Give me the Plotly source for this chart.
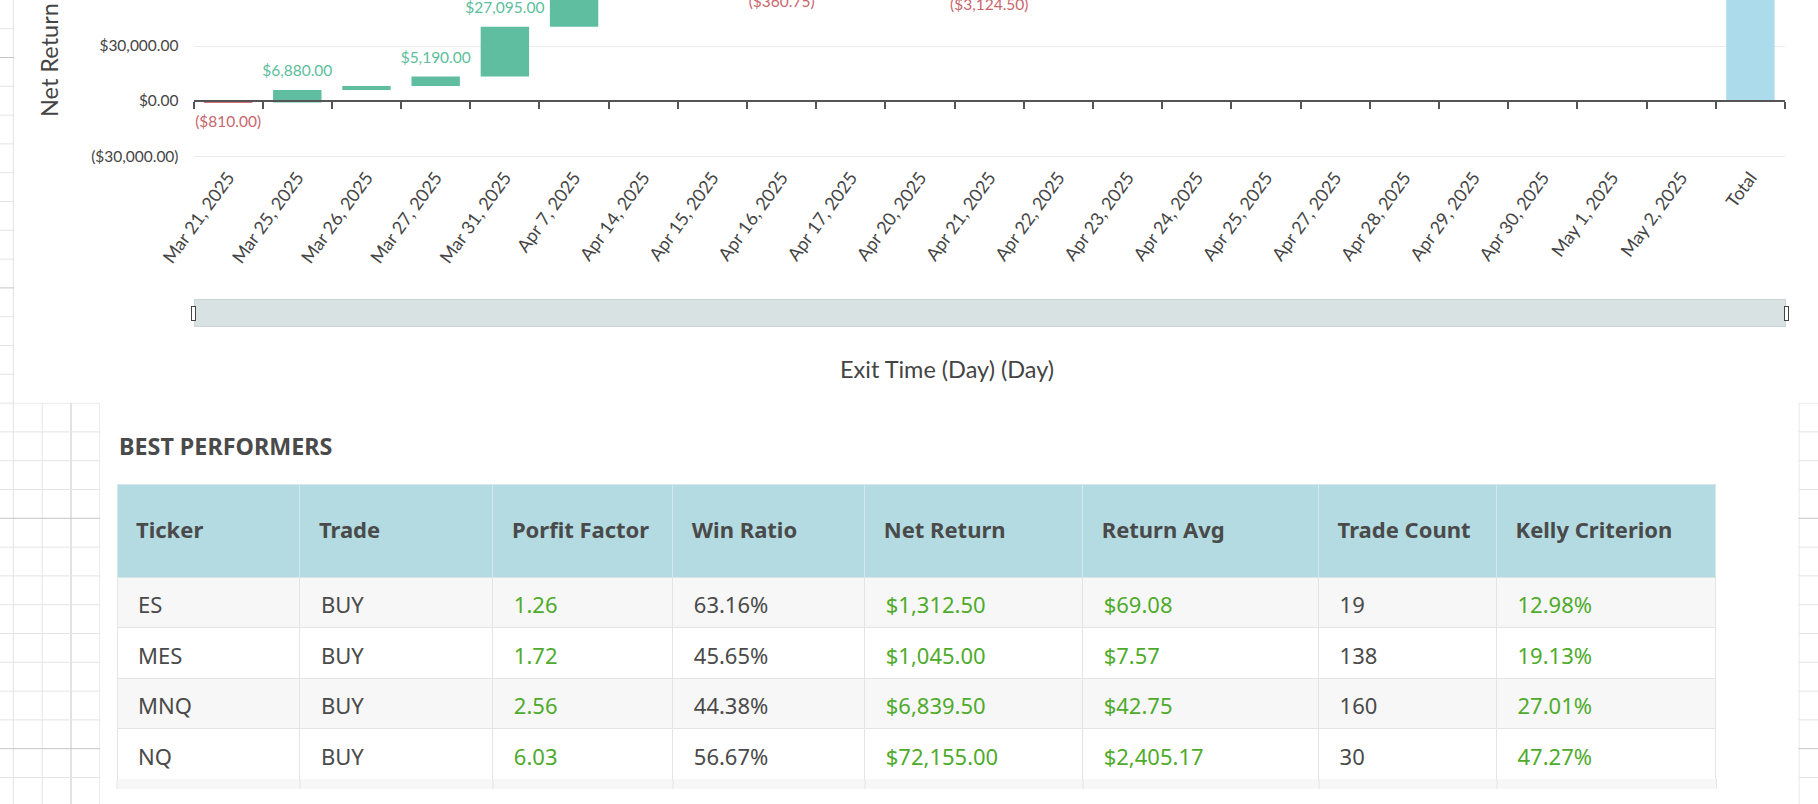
import plotly.graph_objects as go

# ---------------- data ----------------
CATEGORIES = ["Mar 21, 2025", "Mar 25, 2025", "Mar 26, 2025", "Mar 27, 2025", "Mar 31, 2025",
              "Apr 7, 2025", "Apr 14, 2025", "Apr 15, 2025", "Apr 16, 2025", "Apr 17, 2025",
              "Apr 20, 2025", "Apr 21, 2025", "Apr 22, 2025", "Apr 23, 2025", "Apr 24, 2025",
              "Apr 25, 2025", "Apr 27, 2025", "Apr 28, 2025", "Apr 29, 2025", "Apr 30, 2025",
              "May 1, 2025", "May 2, 2025", "Total"]
NET_RETURNS = [-810.00, 6880.00, 2100.00, 5190.00, 27095.00,
               16650.00, 3480.00, 4425.00, -360.75, 640.00,
               535.00, -3124.50, 9300.00, -1185.00, 2310.00,
               4065.00, -980.00, 1875.00, -2430.00, 3190.00,
               1420.00, -655.00]
MEASURES = ["relative"] * len(NET_RETURNS) + ["total"]
# labels the reference hides because they collide with their neighbours
HIDDEN_LABELS = {"Mar 26, 2025"}
Y_TICKS = [-30000, 0, 30000, 60000]

TABLE_TITLE = "BEST PERFORMERS"
TABLE_COLUMNS = ["Ticker", "Trade", "Porfit Factor", "Win Ratio", "Net Return",
                 "Return Avg", "Trade Count", "Kelly Criterion"]
TICKERS = ["ES", "MES", "MNQ", "NQ"]
TRADES = ["BUY", "BUY", "BUY", "BUY"]
PROFIT_FACTORS = [1.26, 1.72, 2.56, 6.03]
WIN_RATIOS = [63.16, 45.65, 44.38, 56.67]
TABLE_NET_RETURNS = [1312.50, 1045.00, 6839.50, 72155.00]
RETURN_AVGS = [69.08, 7.57, 42.75, 2405.17]
TRADE_COUNTS = [19, 138, 160, 30]
KELLY = [12.98, 19.13, 27.01, 47.27]

# ---------------- style / layout constants ----------------
W, H = 1818, 804
PLOT_L, PLOT_R, PLOT_B = 193.5, 1785.0, 162.5
Y_RANGE = [-33500, 55100]
SLIDER_DEPTH = 121.5        # space reserved between plot bottom and range slider
COL_WIDTHS = [183, 193, 180, 192, 218, 236, 178, 219.5]
TABLE_L, TABLE_TOP = 117.0, 484.0
HEADER_H, ROW_H = 93, 50.5
TBL_FONT = 22

GREEN_BAR, RED_BAR, TOTAL_BAR = "#60bea0", "#d46a72", "#acdcec"
GREEN_TXT, RED_TXT = "#5cbe9c", "#c9666e"
TXT = "#444444"
TBL_TXT, TBL_GREEN = "#4a4a4a", "#4fab2b"


def px(x):
    return x / W


def py(y):
    return 1 - y / H


def money(v):
    return f"${v:,.2f}" if v >= 0 else f"(${-v:,.2f})"


def spaced(label, size):
    # invisible wide spacer glyphs give the outside label a little more distance from the bar
    sp = f"<span style='font-size:{size}px'>\u00a0</span>"
    return f"{sp}{label}{sp}"


total = sum(NET_RETURNS)
bar_text = []
for cat, v in zip(CATEGORIES[:-1], NET_RETURNS):
    if cat in HIDDEN_LABELS:
        bar_text.append("")
    else:
        bar_text.append(spaced(money(v), 52 if v >= 0 else 21))
bar_text.append(spaced(money(total), 52))
text_colors = [GREEN_TXT if v >= 0 else RED_TXT for v in NET_RETURNS] + [TXT]

ydom0 = py(PLOT_B)
zero_pos = ydom0 + (0 - Y_RANGE[0]) / (Y_RANGE[1] - Y_RANGE[0]) * (1 - ydom0)
x_range = [-0.5, len(CATEGORIES) - 0.5]

fig = go.Figure()
fig.add_trace(go.Waterfall(
    x=CATEGORIES, y=NET_RETURNS + [0], measure=MEASURES,
    text=bar_text, textposition="outside", constraintext="none", cliponaxis=True,
    textfont=dict(family="Lato", size=15.5, color=text_colors),
    increasing=dict(marker=dict(color=GREEN_BAR)),
    decreasing=dict(marker=dict(color=RED_BAR)),
    totals=dict(marker=dict(color=TOTAL_BAR)),
    connector=dict(visible=False), showlegend=False, hoverinfo="x+y",
))
# helper traces so the label axis and the zero-level axis get drawn
for ax in ("x2", "x3"):
    fig.add_trace(go.Scatter(x=CATEGORIES, y=[None] * len(CATEGORIES), xaxis=ax, yaxis="y",
                             mode="markers", showlegend=False, hoverinfo="skip"))

# ---------------- table ----------------
pad = "\u2002"
cols = [
    TICKERS,
    TRADES,
    [f"{v:.2f}" for v in PROFIT_FACTORS],
    [f"{v:.2f}%" for v in WIN_RATIOS],
    [money(v) for v in TABLE_NET_RETURNS],
    [money(v) for v in RETURN_AVGS],
    [str(v) for v in TRADE_COUNTS],
    [f"{v:.2f}%" for v in KELLY],
]
col_is_green = [False, False, True, False, True, True, False, True]
n_rows = len(TICKERS)
row_fill = ["#f7f7f7" if i % 2 == 0 else "#ffffff" for i in range(n_rows)]
table_w = sum(COL_WIDTHS)
table_bottom = TABLE_TOP + HEADER_H + n_rows * ROW_H

# invisible raised spacer: lowers the cell text a little inside its row
lift = "<sup><sup><sup>\u00a0</sup></sup></sup>"
# invisible first line: centres the header text in its taller row
head_lead = "<span style='font-size:15.7px'>\u00a0</span><br>"

fig.add_trace(go.Table(
    domain=dict(x=[px(TABLE_L), px(TABLE_L + table_w)], y=[py(table_bottom + 1), py(TABLE_TOP)]),
    columnwidth=COL_WIDTHS,
    header=dict(values=[f"{head_lead}<b>{pad}{c}</b>" for c in TABLE_COLUMNS],
                fill_color="#b3dbe1", line=dict(color="#d6e6e9", width=1),
                font=dict(family="Noto Sans", size=TBL_FONT, color=TBL_TXT),
                align="left", height=HEADER_H),
    cells=dict(values=[[f"{lift}{pad}{s}" for s in c] for c in cols],
               fill_color=[row_fill] * len(cols), line=dict(color="#e4e4e4", width=1),
               font=dict(family="Noto Sans", size=TBL_FONT,
                         color=[[TBL_GREEN if g else TBL_TXT] * n_rows for g in col_is_green]),
               align="left", height=ROW_H),
))

# ---------------- background: grid paper + white cards ----------------
shapes = []
CELL, X0, Y0 = 28.8, 13.4, -0.1
k = 0
while X0 + CELL * k <= W:
    x = X0 + CELL * k
    major = (k - 2) % 8 == 0
    shapes.append(dict(type="line", xref="paper", yref="paper", layer="below",
                       x0=px(x), x1=px(x), y0=0, y1=1,
                       line=dict(color="#c6c6c6" if major else "#e4e4e4", width=1)))
    k += 1
k = 1
while Y0 + CELL * k <= H:
    y = Y0 + CELL * k
    major = (k - 2) % 8 == 0
    shapes.append(dict(type="line", xref="paper", yref="paper", layer="below",
                       x0=0, x1=1, y0=py(y), y1=py(y),
                       line=dict(color="#c6c6c6" if major else "#e4e4e4", width=1)))
    k += 1
CARD_SPLIT = 403.3
shapes.append(dict(type="rect", xref="paper", yref="paper", layer="below",
                   x0=px(14.2), x1=1, y0=py(CARD_SPLIT - 0.6), y1=1,
                   fillcolor="#ffffff", line=dict(width=0)))
shapes.append(dict(type="rect", xref="paper", yref="paper", layer="below",
                   x0=px(100.1), x1=px(1798.4), y0=0, y1=py(CARD_SPLIT - 1),
                   fillcolor="#ffffff", line=dict(width=0)))
# clipped top of the next table row (table viewport ends here)
CLIP_B = 789
shapes.append(dict(type="rect", xref="paper", yref="paper",
                   x0=px(TABLE_L), x1=px(TABLE_L + table_w), y0=py(CLIP_B), y1=py(table_bottom),
                   fillcolor="#f7f7f7", line=dict(width=0)))
edge = TABLE_L
for wcol in [0] + COL_WIDTHS:
    edge += wcol
    shapes.append(dict(type="line", xref="paper", yref="paper",
                       x0=px(edge), x1=px(edge), y0=py(CLIP_B), y1=py(table_bottom),
                       line=dict(color="#e4e4e4", width=1)))

annotations = [
    dict(text="Net Return", xref="paper", yref="paper", x=px(49), y=py(60), textangle=-90,
         xanchor="center", yanchor="middle", showarrow=False,
         font=dict(family="Lato", size=23.5, color=TXT)),
    dict(text="Exit Time (Day) (Day)", xref="paper", yref="paper", x=px(947), y=py(369),
         xanchor="center", yanchor="middle", showarrow=False,
         font=dict(family="Lato", size=23.5, color=TXT)),
    dict(text=f"<b>{TABLE_TITLE}</b>", xref="paper", yref="paper", x=px(117), y=py(446),
         xanchor="left", yanchor="middle", showarrow=False,
         font=dict(family="Noto Sans", size=23.3, color=TBL_TXT)),
]

cat_axis = dict(type="category", categoryorder="array", categoryarray=CATEGORIES,
                range=x_range, showgrid=False, zeroline=False)

fig.update_layout(
    width=W, height=H,
    margin=dict(l=0, r=0, t=0, b=0, autoexpand=False),
    paper_bgcolor="#ffffff", plot_bgcolor="rgba(0,0,0,0)",
    font=dict(family="Lato", color=TXT),
    waterfallgap=0.3,
    showlegend=False,
    shapes=shapes,
    annotations=annotations,
    xaxis=dict(domain=[px(PLOT_L), px(PLOT_R)], showline=False, showticklabels=False,
               ticks="outside", ticklen=SLIDER_DEPTH, tickcolor="rgba(0,0,0,0)",
               rangeslider=dict(visible=True, thickness=27 / H, bgcolor="#d9e2e2",
                                bordercolor="#cbd5d5", borderwidth=1,
                                yaxis=dict(rangemode="fixed", range=[-32000, -31000])),
               **cat_axis),
    xaxis2=dict(overlaying="x", anchor="y", side="bottom", showline=False, ticks="",
                tickangle=-54, tickfont=dict(family="Lato", size=18, color=TXT), **cat_axis),
    xaxis3=dict(overlaying="x", anchor="free", position=zero_pos, side="bottom",
                showline=True, linecolor="#555555", linewidth=1.5,
                ticks="outside", ticklen=7, tickwidth=1.5, tickcolor="#555555",
                tickson="boundaries", showticklabels=False, **cat_axis),
    yaxis=dict(domain=[ydom0, 1], range=Y_RANGE, tickmode="array", tickvals=Y_TICKS,
               ticktext=[money(v) for v in Y_TICKS], ticks="", ticklabelstandoff=14,
               showgrid=True, gridcolor="#ebebeb", gridwidth=1, zeroline=False,
               showline=False, tickfont=dict(family="Lato", size=15.5, color=TXT)),
)

fig.write_html("out.html", config={"displayModeBar": False},
               post_script="document.body.style.margin='0px';")
